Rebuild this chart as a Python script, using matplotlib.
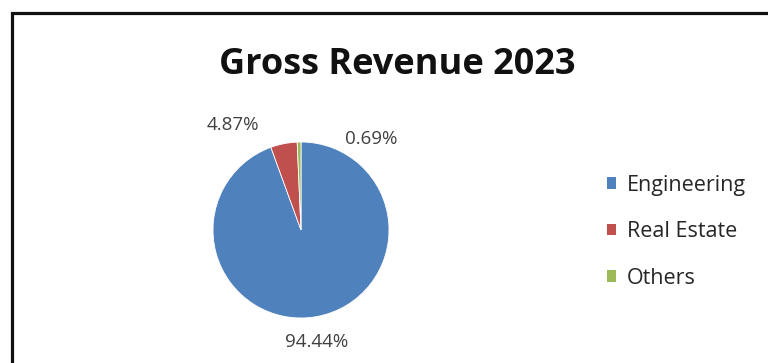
import matplotlib
matplotlib.use("Agg")
import matplotlib.pyplot as plt
from matplotlib.patches import Rectangle, Patch
import numpy as np

# revenue split, percent
segments = ["Engineering", "Real Estate", "Others"]
shares = [94.44, 4.87, 0.69]
colors = ["#4F81BD", "#C0504D", "#9BBB59"]

W, H = 768, 363
fig = plt.figure(figsize=(W / 100, H / 100), dpi=100)
fig.patch.set_facecolor("white")
FONT = "Open Sans"

# chart frame (right and bottom edges fall outside the canvas)
fig.patches.append(Rectangle((12 / W, -0.1), 1.2, (H - 13) / H + 0.1,
                             transform=fig.transFigure, fill=False,
                             edgecolor="#111111", linewidth=2.3))

fig.text(397 / W, 1 - 74 / H, "Gross Revenue 2023", ha="center",
         va="baseline", fontsize=26, fontweight="bold", family=FONT,
         color="#111111")

# pie axes: centre (301, 230), radius 88 px
cx, cy, r = 301, 230, 88
ax = fig.add_axes([(cx - r) / W, (H - cy - r) / H, 2 * r / W, 2 * r / H])
wedges, _ = ax.pie(shares, colors=colors, startangle=90, counterclock=False,
                   radius=1.0, wedgeprops=dict(linewidth=0.6, edgecolor="white"))
ax.set_xlim(-1, 1)
ax.set_ylim(-1, 1)
ax.set_aspect("equal")
ax.axis("off")

# data labels outside the slices; the two thin slices get spread apart
dist = [1.29, 1.42, 1.30]
nudge = [-2.0, 21.6, -38.9]
for w, v, d, n in zip(wedges, shares, dist, nudge):
    ang = np.deg2rad((w.theta1 + w.theta2) / 2 + n)
    ax.text(d * np.cos(ang), d * np.sin(ang), f"{v:.2f}%", ha="center",
            va="center", fontsize=13.5, color="#404040", family=FONT)

handles = [Patch(facecolor=c, edgecolor="none") for c in colors]
fig.legend(handles, segments, loc="upper left",
           bbox_to_anchor=(596 / W, 1 - 164 / H), frameon=False,
           prop=dict(family=FONT, size=15.5), labelcolor="#262626",
           handlelength=0.45, handleheight=0.45, handletextpad=0.5,
           labelspacing=1.18, borderpad=0)

fig.savefig("out.png", dpi=100, facecolor="white")
